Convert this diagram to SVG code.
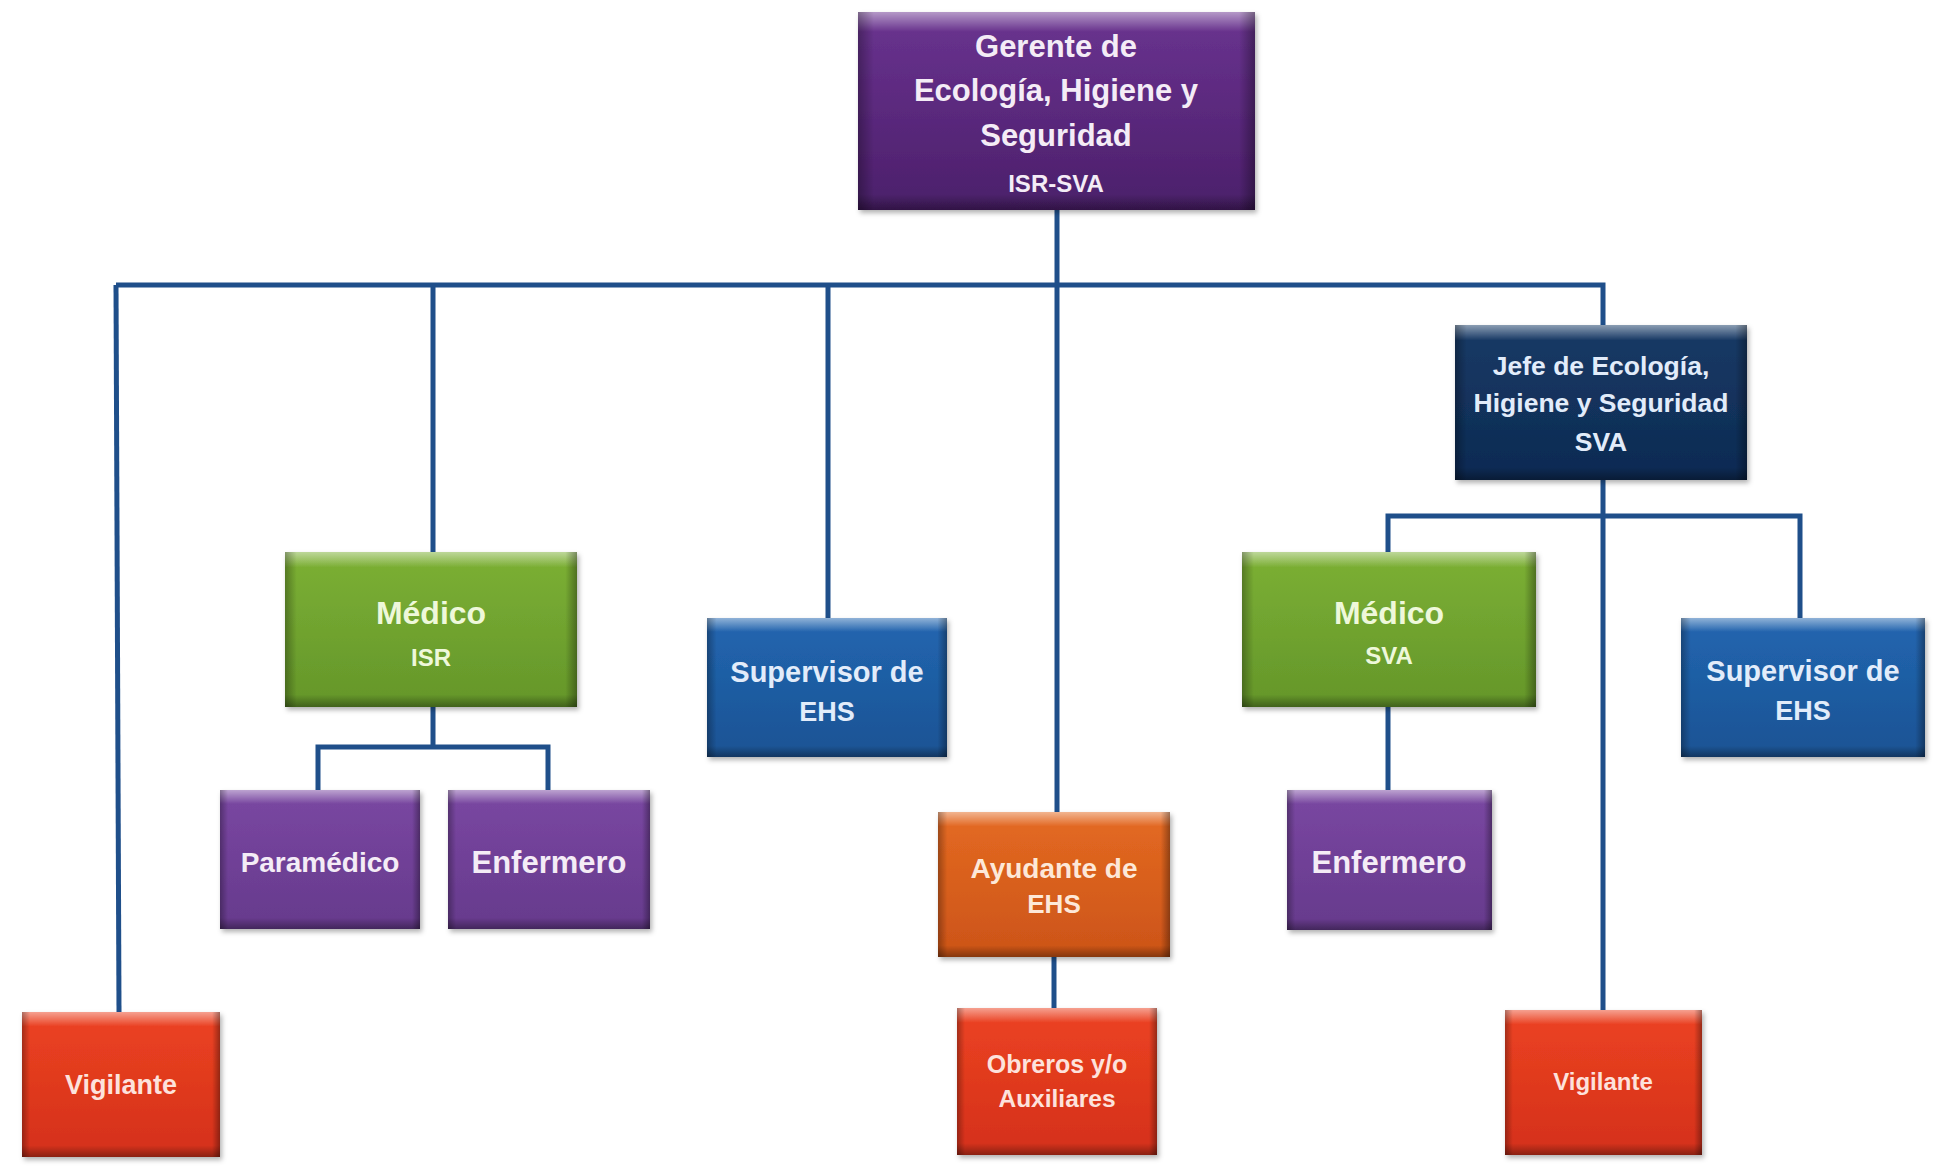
<svg xmlns="http://www.w3.org/2000/svg" width="1938" height="1169" viewBox="0 0 1938 1169">
<defs>
<linearGradient id="gPurpleD" x1="0" y1="0" x2="0" y2="1"><stop offset="0" stop-color="#6a3390"/><stop offset="1" stop-color="#4b1f6a"/></linearGradient>
<linearGradient id="gNavy" x1="0" y1="0" x2="0" y2="1"><stop offset="0" stop-color="#163a66"/><stop offset="1" stop-color="#0e2a52"/></linearGradient>
<linearGradient id="gGreen" x1="0" y1="0" x2="0" y2="1"><stop offset="0" stop-color="#7cb034"/><stop offset="1" stop-color="#64962a"/></linearGradient>
<linearGradient id="gBlue" x1="0" y1="0" x2="0" y2="1"><stop offset="0" stop-color="#2266b0"/><stop offset="1" stop-color="#1a5394"/></linearGradient>
<linearGradient id="gPurple" x1="0" y1="0" x2="0" y2="1"><stop offset="0" stop-color="#7a47a2"/><stop offset="1" stop-color="#663a8c"/></linearGradient>
<linearGradient id="gOrange" x1="0" y1="0" x2="0" y2="1"><stop offset="0" stop-color="#e46a22"/><stop offset="1" stop-color="#cc5418"/></linearGradient>
<linearGradient id="gRed" x1="0" y1="0" x2="0" y2="1"><stop offset="0" stop-color="#ec4322"/><stop offset="1" stop-color="#d4301a"/></linearGradient>
<linearGradient id="bevV" x1="0" y1="0" x2="0" y2="1"><stop offset="0" stop-color="#ffffff" stop-opacity="0.5"/><stop offset="0.06" stop-color="#ffffff" stop-opacity="0.2"/><stop offset="0.1" stop-color="#ffffff" stop-opacity="0"/><stop offset="0.92" stop-color="#000000" stop-opacity="0"/><stop offset="1" stop-color="#000000" stop-opacity="0.35"/></linearGradient>
<linearGradient id="bevH" x1="0" y1="0" x2="1" y2="0"><stop offset="0" stop-color="#000000" stop-opacity="0.3"/><stop offset="0.04" stop-color="#000000" stop-opacity="0"/><stop offset="0.96" stop-color="#000000" stop-opacity="0"/><stop offset="1" stop-color="#000000" stop-opacity="0.35"/></linearGradient>
<filter id="sh" x="-5%" y="-5%" width="112%" height="115%"><feDropShadow dx="2" dy="3" stdDeviation="2.5" flood-color="#000" flood-opacity="0.3"/></filter>
</defs>
<style>
.box{filter:url(#sh);}
.bv{fill:url(#bevV);}
.bh{fill:url(#bevH);}
.t{font-family:"Liberation Sans",Arial,sans-serif;font-weight:bold;text-anchor:middle;fill:#f4ecf6;}
.tg{fill:#eef8da;}
.tb{fill:#e2ecfa;}
.to{fill:#fde8d8;}
.tr{fill:#fde2dc;}
.conn{fill:none;stroke:#1f4f8a;stroke-width:5;}
</style>
<rect width="1938" height="1169" fill="#ffffff"/>
<g id="connectors" class="conn">
<path d="M1057,210 V812"/>
<path d="M1054,957 V1008"/>
<path d="M116,285 H1603 V325"/>
<path d="M116,285 L119,1012"/>
<path d="M433,285 V552"/>
<path d="M828,285 V618"/>
<path d="M1603,480 V1010"/>
<path d="M433,707 V747 M318,790 V747 H548 V790"/>
<path d="M1388,552 V516 H1800 V618"/>
<path d="M1388,707 V790"/>
</g>
<g id="gerente">
<rect class="box" x="858" y="12" width="397" height="198" fill="url(#gPurpleD)"/>
<rect class="bv" x="858" y="12" width="397" height="198"/><rect class="bh" x="858" y="12" width="397" height="198"/>
<text class="t" font-size="31" x="1056" y="57">Gerente de</text>
<text class="t" font-size="31" x="1056" y="101">Ecología, Higiene y</text>
<text class="t" font-size="31" x="1056" y="146">Seguridad</text>
<text class="t" font-size="24" x="1056" y="192">ISR-SVA</text>
</g>
<g id="jefe">
<rect class="box" x="1455" y="325" width="292" height="155" fill="url(#gNavy)"/>
<rect class="bv" x="1455" y="325" width="292" height="155"/><rect class="bh" x="1455" y="325" width="292" height="155"/>
<text class="t tb" font-size="26.5" x="1601" y="375">Jefe de Ecología,</text>
<text class="t tb" font-size="26.5" x="1601" y="412">Higiene y Seguridad</text>
<text class="t tb" font-size="26.5" x="1601" y="451">SVA</text>
</g>
<g id="medico-isr">
<rect class="box" x="285" y="552" width="292" height="155" fill="url(#gGreen)"/>
<rect class="bv" x="285" y="552" width="292" height="155"/><rect class="bh" x="285" y="552" width="292" height="155"/>
<text class="t tg" font-size="32" x="431" y="624">Médico</text>
<text class="t tg" font-size="24" x="431" y="666">ISR</text>
</g>
<g id="supervisor-isr">
<rect class="box" x="707" y="618" width="240" height="139" fill="url(#gBlue)"/>
<rect class="bv" x="707" y="618" width="240" height="139"/><rect class="bh" x="707" y="618" width="240" height="139"/>
<text class="t tb" font-size="29" x="827" y="682">Supervisor de</text>
<text class="t tb" font-size="27" x="827" y="721">EHS</text>
</g>
<g id="paramedico">
<rect class="box" x="220" y="790" width="200" height="139" fill="url(#gPurple)"/>
<rect class="bv" x="220" y="790" width="200" height="139"/><rect class="bh" x="220" y="790" width="200" height="139"/>
<text class="t" font-size="28" x="320" y="872">Paramédico</text>
</g>
<g id="enfermero-isr">
<rect class="box" x="448" y="790" width="202" height="139" fill="url(#gPurple)"/>
<rect class="bv" x="448" y="790" width="202" height="139"/><rect class="bh" x="448" y="790" width="202" height="139"/>
<text class="t" font-size="31" x="549" y="873">Enfermero</text>
</g>
<g id="ayudante">
<rect class="box" x="938" y="812" width="232" height="145" fill="url(#gOrange)"/>
<rect class="bv" x="938" y="812" width="232" height="145"/><rect class="bh" x="938" y="812" width="232" height="145"/>
<text class="t to" font-size="28" x="1054" y="878">Ayudante de</text>
<text class="t to" font-size="26" x="1054" y="913">EHS</text>
</g>
<g id="obreros">
<rect class="box" x="957" y="1008" width="200" height="147" fill="url(#gRed)"/>
<rect class="bv" x="957" y="1008" width="200" height="147"/><rect class="bh" x="957" y="1008" width="200" height="147"/>
<text class="t tr" font-size="25" x="1057" y="1073">Obreros y/o</text>
<text class="t tr" font-size="24.5" x="1057" y="1107">Auxiliares</text>
</g>
<g id="vigilante-isr">
<rect class="box" x="22" y="1012" width="198" height="145" fill="url(#gRed)"/>
<rect class="bv" x="22" y="1012" width="198" height="145"/><rect class="bh" x="22" y="1012" width="198" height="145"/>
<text class="t tr" font-size="27" x="121" y="1094">Vigilante</text>
</g>
<g id="medico-sva">
<rect class="box" x="1242" y="552" width="294" height="155" fill="url(#gGreen)"/>
<rect class="bv" x="1242" y="552" width="294" height="155"/><rect class="bh" x="1242" y="552" width="294" height="155"/>
<text class="t tg" font-size="32" x="1389" y="624">Médico</text>
<text class="t tg" font-size="24" x="1389" y="664">SVA</text>
</g>
<g id="supervisor-sva">
<rect class="box" x="1681" y="618" width="244" height="139" fill="url(#gBlue)"/>
<rect class="bv" x="1681" y="618" width="244" height="139"/><rect class="bh" x="1681" y="618" width="244" height="139"/>
<text class="t tb" font-size="29" x="1803" y="681">Supervisor de</text>
<text class="t tb" font-size="27" x="1803" y="720">EHS</text>
</g>
<g id="enfermero-sva">
<rect class="box" x="1287" y="790" width="205" height="140" fill="url(#gPurple)"/>
<rect class="bv" x="1287" y="790" width="205" height="140"/><rect class="bh" x="1287" y="790" width="205" height="140"/>
<text class="t" font-size="31" x="1389" y="873">Enfermero</text>
</g>
<g id="vigilante-sva">
<rect class="box" x="1505" y="1010" width="197" height="145" fill="url(#gRed)"/>
<rect class="bv" x="1505" y="1010" width="197" height="145"/><rect class="bh" x="1505" y="1010" width="197" height="145"/>
<text class="t tr" font-size="24" x="1603" y="1090">Vigilante</text>
</g>
</svg>
